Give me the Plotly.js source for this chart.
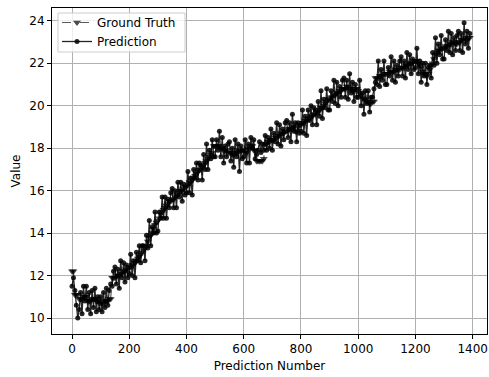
<!DOCTYPE html>
<html>
<head>
<meta charset="utf-8">
<script src="https://cdn.plot.ly/plotly-3.0.1.min.js"></script>
<style>html,body{margin:0;padding:0;background:#fff;}#chart{width:489px;height:377px;}</style>
</head>
<body>
<div id="chart"></div>
<script>
// x positions: prediction number (every 5th sample, 0..1390)
const xStart = 0, xStep = 5;
const groundTruth = [
12.2,12.2,11.1,11.1,11.1,10.9,10.9,10.9,11.0,11.0,
11.0,10.8,10.8,10.8,10.9,10.9,10.9,10.8,10.8,10.8,
10.7,10.7,10.7,10.8,10.8,10.8,10.9,10.9,11.9,11.9,
11.9,12.0,12.0,12.0,12.1,12.1,12.2,12.2,12.3,12.3,
12.4,12.4,12.5,12.5,12.6,12.7,12.8,12.9,13.0,13.1,
13.2,13.3,13.4,13.6,13.8,13.9,14.0,14.2,14.4,14.5,
14.6,14.7,14.9,15.0,15.1,15.2,15.3,15.4,15.5,15.5,
15.6,15.6,15.7,15.8,15.8,15.9,16.0,16.0,16.1,16.2,
16.2,16.3,16.4,16.4,16.5,16.6,16.7,16.8,16.9,17.0,
17.0,17.1,17.2,17.3,17.4,17.5,17.6,17.7,17.8,18.1,
18.1,18.1,18.1,18.1,18.0,18.0,17.9,17.9,17.9,17.8,
17.8,17.8,17.7,17.7,17.8,17.8,17.8,17.9,17.9,17.9,
17.9,17.8,17.8,18.0,18.0,18.1,18.1,17.9,17.9,17.4,
17.4,17.4,17.4,17.4,17.5,18.2,18.2,18.3,18.3,18.4,
18.4,18.4,18.5,18.5,18.6,18.6,18.7,18.7,18.7,18.8,
18.8,18.9,18.9,18.9,19.0,19.0,18.8,18.8,19.0,19.1,
19.1,19.2,19.2,19.3,19.3,19.4,19.4,19.5,19.5,19.6,
19.6,19.7,19.7,19.8,19.9,19.9,20.0,20.1,20.2,20.3,
20.3,20.4,20.4,20.5,20.5,20.6,20.6,20.7,20.7,20.8,
20.8,20.8,20.9,20.9,20.8,20.8,20.7,20.7,20.8,20.8,
20.7,20.6,20.5,20.4,20.3,20.3,20.2,20.2,20.1,20.1,
20.2,20.2,21.3,21.3,21.3,21.4,21.4,21.4,21.5,21.5,
21.5,21.5,21.6,21.6,21.6,21.6,21.7,21.7,21.7,21.7,
21.8,21.8,21.8,21.9,21.9,21.9,22.0,22.0,22.0,22.1,
22.1,22.1,22.0,21.9,21.8,21.6,21.5,21.5,21.4,21.5,
21.7,21.9,22.0,22.2,22.4,22.5,22.6,22.6,22.7,22.7,
22.7,22.8,22.8,22.8,22.9,22.9,23.0,23.0,22.9,22.9,
23.0,23.0,23.1,23.1,23.2,23.1,23.1,23.2,23.2
];
const prediction = [
11.5,11.9,11.3,10.6,10.0,10.4,11.2,10.2,11.5,10.8,
11.5,10.4,11.2,10.2,11.3,10.5,11.4,10.3,11.0,10.4,
11.0,10.3,11.2,10.5,11.4,10.6,11.3,11.6,11.5,12.2,
12.4,11.6,12.3,11.4,12.7,11.9,12.6,11.7,12.5,11.9,
12.1,13.0,12.0,12.7,11.9,13.1,12.7,13.4,12.6,13.4,
13.4,12.7,13.9,13.3,14.6,13.4,14.3,14.0,15.0,14.0,
14.1,15.0,14.7,15.7,14.7,15.7,14.7,15.6,15.2,15.9,
16.1,15.2,16.0,15.2,16.4,15.7,16.4,15.5,16.3,15.8,
15.9,16.9,15.9,16.6,15.8,17.0,16.6,17.3,16.5,17.3,
17.2,16.5,17.7,17.0,18.2,17.0,17.9,17.5,18.4,17.6,
17.6,18.4,17.9,18.8,17.6,18.5,17.3,18.1,17.6,18.2,
18.3,17.4,18.0,17.1,18.4,17.6,18.2,16.9,18.1,17.5,
17.6,18.4,17.3,18.2,17.3,18.5,18.0,18.4,17.5,17.7,
17.9,18.3,17.8,18.2,17.9,18.6,17.9,18.5,18.0,18.9,
17.9,18.7,18.3,19.2,18.2,19.1,18.1,18.9,18.4,19.2,
19.3,18.5,19.2,18.3,19.6,18.8,19.2,18.3,19.2,18.7,
18.8,19.8,18.7,19.5,18.6,19.8,19.3,20.0,19.1,19.9,
19.8,19.1,20.2,19.5,20.7,19.4,20.3,19.9,20.8,19.8,
19.8,20.7,20.2,21.2,20.1,21.1,20.0,20.9,20.4,21.2,
21.3,20.4,21.2,20.3,21.5,20.6,21.1,20.2,21.0,20.4,
20.4,21.2,20.0,20.6,19.6,20.7,20.1,20.7,19.7,20.4,
20.4,20.8,21.1,21.0,22.1,20.9,21.7,21.2,22.1,21.0,
21.0,21.8,21.4,22.3,21.2,22.1,21.1,21.9,21.4,22.1,
22.3,21.4,22.1,21.3,22.5,21.7,22.4,21.5,22.2,21.7,
21.8,22.7,21.5,22.1,21.1,22.0,21.4,22.0,21.0,21.8,
21.9,21.3,22.5,21.9,23.2,22.0,22.9,22.4,23.3,22.2,
22.2,23.1,22.6,23.5,22.5,23.4,22.4,23.2,22.6,23.3,
23.5,22.6,23.4,22.5,23.9,22.9,23.5,22.7,23.4
];
const xTicks = [0,200,400,600,800,1000,1200,1400];
const yTicks = [10,12,14,16,18,20,22,24];

const xs = groundTruth.map((_, i) => xStart + i * xStep);

const font = {family: 'DejaVu Sans, sans-serif', size: 12, color: '#000'};

const traces = [
  {
    x: xs, y: groundTruth, name: 'Ground Truth', type: 'scatter', mode: 'lines+markers',
    line: {color: 'rgba(0,0,0,0.65)', width: 1.2, dash: 'dash'},
    marker: {symbol: 'triangle-down', size: 7, color: 'rgba(0,0,0,0.7)'}
  },
  {
    x: xs, y: prediction, name: 'Prediction', type: 'scatter', mode: 'lines+markers',
    line: {color: 'rgba(0,0,0,0.85)', width: 1.3},
    marker: {symbol: 'circle', size: 5, color: 'rgba(0,0,0,0.85)'}
  }
];

const px = v => (v - 52) / 435;
const py = v => 1 - (v - 8) / 326;

const layout = {
  width: 489, height: 377,
  margin: {l: 52, r: 2, t: 8, b: 43},
  paper_bgcolor: '#fff', plot_bgcolor: '#fff',
  font: font,
  showlegend: true,
  legend: {x: px(57), y: py(8), xanchor: 'left', yanchor: 'top',
    bgcolor: 'rgba(0,0,0,0)', borderwidth: 0,
    font: {family: 'DejaVu Sans, sans-serif', size: 12, color: '#000'},
    tracegroupgap: 0, itemwidth: 30},
  shapes: [{type: 'rect', xref: 'paper', yref: 'paper', layer: 'above',
    x0: px(58), x1: px(185), y0: py(52), y1: py(13),
    fillcolor: 'rgba(255,255,255,0.8)', line: {color: '#cccccc', width: 1}}],
  xaxis: {
    range: [-70, 1450], tickvals: xTicks, ticktext: xTicks.map(String),
    showgrid: true, gridcolor: '#b0b0b0', gridwidth: 1, zeroline: false,
    showline: true, mirror: true, linecolor: '#000', linewidth: 1,
    ticks: 'outside', ticklen: 4, tickcolor: '#000', tickwidth: 1,
    tickfont: font,
    title: {text: 'Prediction Number', font: font, standoff: 6}
  },
  yaxis: {
    range: [9.25, 24.6], tickvals: yTicks, ticktext: yTicks.map(String),
    showgrid: true, gridcolor: '#b0b0b0', gridwidth: 1, zeroline: false,
    showline: true, mirror: true, linecolor: '#000', linewidth: 1,
    ticks: 'outside', ticklen: 4, tickcolor: '#000', tickwidth: 1,
    tickfont: font,
    title: {text: 'Value', font: font, standoff: 6}
  }
};

Plotly.newPlot('chart', traces, layout, {staticPlot: true, displayModeBar: false});
</script>
</body>
</html>
